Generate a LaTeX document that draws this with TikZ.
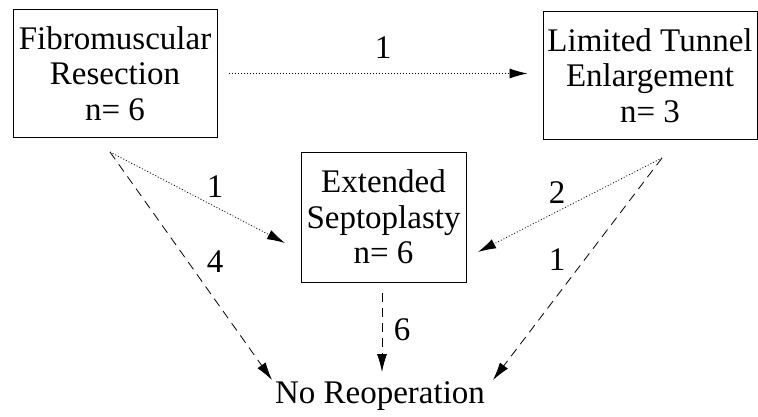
\documentclass[tikz,border=0pt]{standalone}
\usepackage{fontspec}
\setmainfont{Liberation Serif}
\usetikzlibrary{arrows.meta}
\begin{document}
\begin{tikzpicture}[x=1pt,y=1pt,
  every node/.style={font=\fontsize{33}{35.5}\selectfont},
  stage/.style={draw,line width=1pt,inner sep=0pt,align=center},
  lbl/.style={inner sep=0pt},
  dotarrow/.style={line width=0.8pt,dash pattern=on 1pt off 2pt,-{Latex[length=18pt,width=10pt]}},
  dasharrow/.style={line width=0.8pt,dash pattern=on 9pt off 6pt,-{Latex[length=18pt,width=10pt]}}]
\useasboundingbox (0,0) rectangle (758,416);
\node[stage,minimum width=204pt,minimum height=127pt] (b1) at (115,342.5) {Fibromuscular\\Resection\\n= 6};
\node[stage,minimum width=214pt,minimum height=127pt] (b2) at (650,340.5) {Limited Tunnel\\Enlargement\\n= 3};
\node[stage,minimum width=165pt,minimum height=130pt] (b3) at (383.5,199) {Extended\\Septoplasty\\n= 6};
\node[lbl,anchor=base] (nr) at (380,13) {No Reoperation};
\coordinate (s1) at (110,264);
\coordinate (s2) at (662,258);
\coordinate (t1) at (285,173);
\coordinate (t2) at (478,164);
\coordinate (t3) at (272,36);
\coordinate (t4) at (493,36);
\coordinate (v0) at (382,123);
\coordinate (v1) at (382,44);
\draw[dotarrow,shorten <=11pt,shorten >=15pt] (b1.east) -- (b1.east -| b2.west);
\draw[dotarrow] (s1) -- (t1);
\draw[dasharrow] (s1) -- (t3);
\draw[dotarrow] (s2) -- (t2);
\draw[dasharrow] (s2) -- (t4);
\draw[dasharrow] (v0) -- (v1);
\node[lbl] (l1) at (383,368) {1};
\node[lbl] (l2) at (215,229) {1};
\node[lbl] (l3) at (215,154) {4};
\node[lbl] (l4) at (557,223) {2};
\node[lbl] (l5) at (557,156) {1};
\node[lbl] (l6) at (402,86) {6};
\end{tikzpicture}
\end{document}
